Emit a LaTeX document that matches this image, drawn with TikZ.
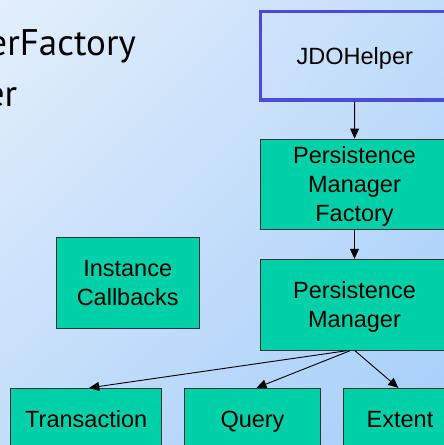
\documentclass[tikz,border=0pt]{standalone}
\usepackage{fontspec}
\setmainfont{Liberation Sans}
\newfontfamily\titrefont{PT Sans}
\usetikzlibrary{arrows.meta,shapes,positioning,calc,shadings}
\definecolor{vertboite}{RGB}{0,208,168}
\definecolor{bleucadre}{RGB}{75,75,216}
\definecolor{fondclair}{RGB}{228,239,252}
\definecolor{fondmoyen}{RGB}{194,221,250}
\definecolor{fondfonce}{RGB}{166,206,250}
\begin{document}
\begin{tikzpicture} [x=1pt, y=-1pt]
%boites : style commun des classes, fleche : liaison entre classes
\tikzset{boite/.style={draw=black!80,line width=0.9pt,fill=vertboite,align=center,inner sep=0pt,
  font=\fontsize{23.5}{29.3}\selectfont},
  uneligne/.style={text height=21pt,text depth=4.2pt},
  fleche/.style={-{Triangle[length=10pt,width=9pt]},line width=0.9pt}} %définition des styles
\useasboundingbox (0,0) rectangle (444,445);
\clip (0,0) rectangle (444,445);
\shade[upper left=fondclair, upper right=fondmoyen, lower left=fondmoyen, lower right=fondfonce] (0,0) rectangle (444,445);
% titre coupé à gauche
\node[anchor=base east,inner sep=0pt,font=\titrefont\fontsize{37}{50}\selectfont] (titre1) at (136,55.7) {erFactory};
\node[anchor=base east,inner sep=0pt,font=\titrefont\fontsize{37}{50}\selectfont] (titre2) at (17.5,106) {er};
% classes
\node[boite,uneligne,fill=none,draw=bleucadre,line width=3.3pt,minimum width=188pt,minimum height=88.5pt] (jdo) at (354.8,55.8) {JDOHelper};
\node[boite,minimum width=189pt,minimum height=90pt,text depth=0pt] (pmf) at (354.5,184) {Persistence\\Manager\\Factory};
\node[boite,minimum width=189pt,minimum height=91pt,text depth=-3pt] (pm) at (354.5,304.8) {Persistence\\Manager};
\node[boite,minimum width=143.3pt,minimum height=91pt] (ic) at (127.7,282.8) {Instance\\Callbacks};
\node[boite,uneligne,minimum width=151pt,minimum height=62pt] (trans) at (86.2,419.3) {Transaction};
\node[boite,uneligne,minimum width=135.6pt,minimum height=62pt] (query) at (252.5,419.3) {Query};
\node[boite,uneligne,minimum width=113.4pt,minimum height=62pt] (extent) at (400,419.3) {Extent};
% liaisons
\draw[fleche] (jdo) -- (pmf);
\draw[fleche] (pmf) -- (pm);
\draw[fleche] ([xshift=-8pt]pm.south) -- ([xshift=3pt]trans.north);
\draw[fleche] ([xshift=-4.5pt]pm.south) -- ([xshift=4pt]query.north);
\draw[fleche] ([xshift=0.5pt]pm.south) -- ([xshift=-1.7pt]extent.north);
\end{tikzpicture}
\end{document}
